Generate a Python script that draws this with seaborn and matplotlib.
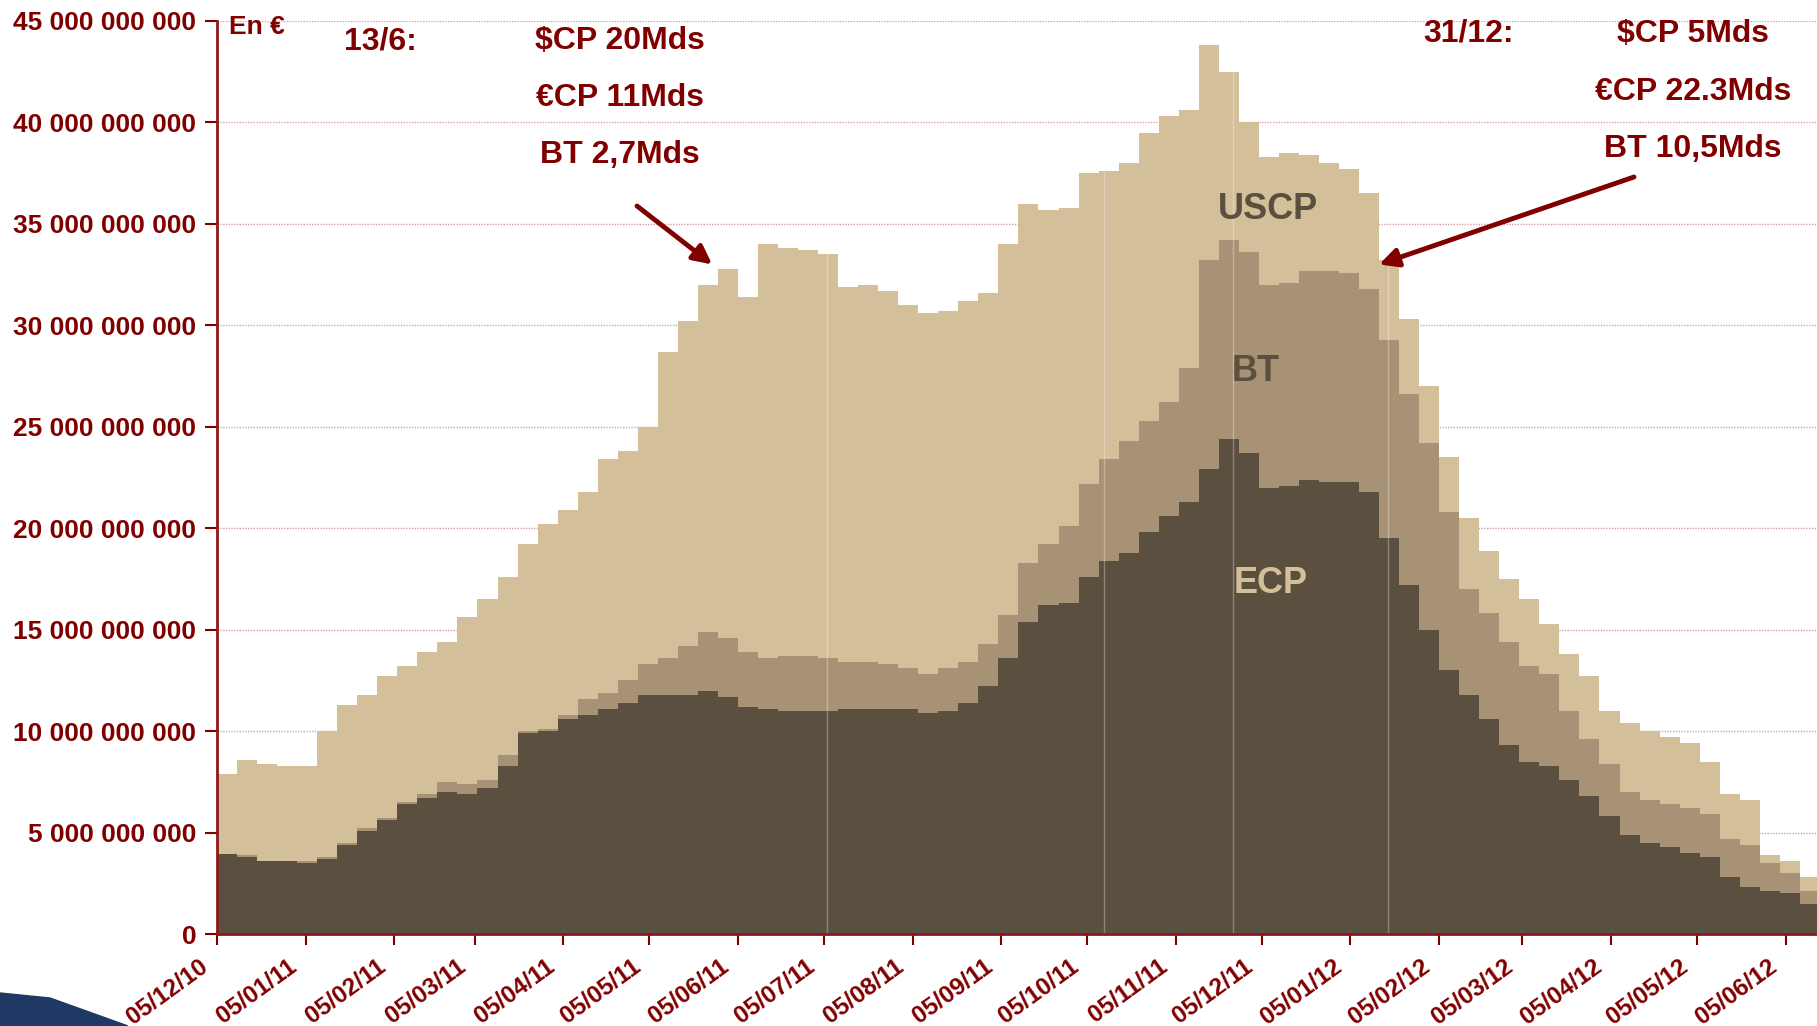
import numpy as np
import pandas as pd
import matplotlib
matplotlib.use("Agg")
import matplotlib.pyplot as plt
import matplotlib.dates as mdates
import matplotlib.ticker as mticker
import matplotlib.transforms as mtransforms
from matplotlib.patches import Polygon
import seaborn as sns

# weekly outstanding amounts, in billions of euros
week_start = list(pd.date_range("2010-12-05", periods=80, freq="7D")) + [pd.Timestamp("2012-06-16")]

ecp = [3.95, 3.8, 3.6, 3.6, 3.5, 3.7, 4.4, 5.1, 5.6, 6.4,
       6.7, 7.0, 6.9, 7.2, 8.3, 9.9, 10.0, 10.6, 10.8, 11.1,
       11.4, 11.8, 11.8, 11.8, 12.0, 11.7, 11.2, 11.1, 11.0, 11.0,
       11.0, 11.1, 11.1, 11.1, 11.1, 10.9, 11.0, 11.4, 12.2, 13.6,
       15.4, 16.2, 16.3, 17.6, 18.4, 18.8, 19.8, 20.6, 21.3, 22.9,
       24.4, 23.7, 22.0, 22.1, 22.4, 22.3, 22.3, 21.8, 19.5, 17.2,
       15.0, 13.0, 11.8, 10.6, 9.3, 8.5, 8.3, 7.6, 6.8, 5.8,
       4.9, 4.5, 4.3, 4.0, 3.8, 2.8, 2.3, 2.1, 2.0, 1.5, 1.1]

bt = [0.0, 0.1, 0.0, 0.0, 0.1, 0.1, 0.1, 0.1, 0.1, 0.1,
      0.2, 0.5, 0.5, 0.4, 0.5, 0.1, 0.1, 0.2, 0.8, 0.8,
      1.1, 1.5, 1.8, 2.4, 2.9, 2.9, 2.7, 2.5, 2.7, 2.7,
      2.6, 2.3, 2.3, 2.2, 2.0, 1.9, 2.1, 2.0, 2.1, 2.1,
      2.9, 3.0, 3.8, 4.6, 5.0, 5.5, 5.5, 5.6, 6.6, 10.3,
      9.8, 9.9, 10.0, 10.0, 10.3, 10.4, 10.3, 10.0, 9.8, 9.4,
      9.2, 7.8, 5.2, 5.2, 5.1, 4.7, 4.5, 3.4, 2.8, 2.6,
      2.1, 2.1, 2.1, 2.2, 2.1, 1.9, 2.1, 1.4, 1.0, 0.6, 0.7]

uscp = [3.95, 4.7, 4.8, 4.7, 4.7, 6.2, 6.8, 6.6, 7.0, 6.7,
        7.0, 6.9, 8.2, 8.9, 8.8, 9.2, 10.1, 10.1, 10.2, 11.5,
        11.3, 11.7, 15.1, 16.0, 17.1, 18.2, 17.5, 20.4, 20.1, 20.0,
        19.9, 18.5, 18.6, 18.4, 17.9, 17.8, 17.6, 17.8, 17.3, 18.3,
        17.7, 16.5, 15.7, 15.3, 14.2, 13.7, 14.2, 14.1, 12.7, 10.6,
        8.3, 6.4, 6.3, 6.4, 5.7, 5.3, 5.1, 4.7, 3.9, 3.7,
        2.8, 2.7, 3.5, 3.1, 3.1, 3.3, 2.5, 2.8, 3.1, 2.6,
        3.4, 3.4, 3.3, 3.2, 2.6, 2.2, 2.2, 0.4, 0.6, 0.7, 0.7]

series_names = ["ECP", "BT", "USCP"]
series_colors = ["#5b4f3f", "#a89276", "#d4bf9b"]
faint_lines = ["2011-07-06", "2011-10-11", "2011-11-25", "2012-01-18"]

RED = "#800000"
W, H = 1817, 1026

sns.set_theme(style="white")
plt.rcParams["font.family"] = ["Liberation Sans", "DejaVu Sans"]

df = pd.DataFrame({"date": week_start, "ECP": ecp, "BT": bt, "USCP": uscp})
stack = df[series_names].cumsum(axis=1) * 1e9

fig = plt.figure(figsize=(W / 100, H / 100), dpi=100)
ax = fig.add_axes([217 / W, (1026 - 934) / H, 1 - 217 / W, (934 - 21) / H])

lower = np.zeros(len(df))
for name, color in zip(series_names, series_colors):
    upper = stack[name].values
    ax.fill_between(df["date"], lower, upper, step="post", color=color, lw=0, zorder=2)
    lower = upper

for d in faint_lines:
    ax.axvline(pd.Timestamp(d), color="white", alpha=0.3, lw=1, zorder=3)

ax.set_ylim(0, 45e9)
ax.set_xlim(pd.Timestamp("2010-12-05"), pd.Timestamp("2012-06-16"))
ax.yaxis.set_major_locator(mticker.MultipleLocator(5e9))
ax.yaxis.set_major_formatter(mticker.FuncFormatter(lambda v, p: f"{int(round(v)):,}".replace(",", " ")))
ax.xaxis.set_major_locator(mdates.MonthLocator(bymonthday=5))
ax.xaxis.set_major_formatter(mdates.DateFormatter("%d/%m/%y"))

ax.grid(axis="y", color="#d9a3a3", linestyle=(0, (1, 1)), lw=1, zorder=1)
ax.set_axisbelow(True)
sns.despine(ax=ax, top=True, right=True)
for side in ["left", "bottom"]:
    ax.spines[side].set_color("#8b1a1a")
    ax.spines[side].set_linewidth(2)
    ax.spines[side].set_zorder(5)

ax.tick_params(axis="y", colors=RED, length=9, width=1.5, direction="out", labelsize=19, pad=6, left=True)
ax.tick_params(axis="x", colors=RED, length=8, width=1.5, direction="out", labelsize=17.5, pad=5, bottom=True)
for lab in ax.get_yticklabels():
    lab.set_fontweight("bold")
shift = mtransforms.ScaledTranslation(-0.18, -0.03, fig.dpi_scale_trans)
for lab in ax.get_xticklabels():
    lab.set_fontweight("bold")
    lab.set_rotation(36)
    lab.set_ha("right")
    lab.set_va("top")
    lab.set_rotation_mode("anchor")
    lab.set_transform(lab.get_transform() + shift)
ax.set_xlabel("")
ax.set_ylabel("")

# series labels inside the areas
ax.text(pd.Timestamp("2011-12-07"), 35.7e9, "USCP", color="#5b4f3f", fontsize=26, fontweight="bold", ha="center", va="center", zorder=6)
ax.text(pd.Timestamp("2011-12-03"), 27.7e9, "BT", color="#5b4f3f", fontsize=26, fontweight="bold", ha="center", va="center", zorder=6)
ax.text(pd.Timestamp("2011-12-08"), 17.3e9, "ECP", color="#d4bf9b", fontsize=26, fontweight="bold", ha="center", va="center", zorder=6)


def ftext(x, y, s, size=23, ha="center"):
    fig.text(x / W, 1 - y / H, s, color=RED, fontsize=size, fontweight="bold", ha=ha, va="center")


ftext(229, 27, "En €", size=19, ha="left")
ftext(380, 41, "13/6:")
ftext(620, 41, "$CP 20Mds")
ftext(620, 98, "€CP 11Mds")
ftext(620, 155, "BT 2,7Mds")
ftext(1469, 34, "31/12:")
ftext(1693, 34, "$CP 5Mds")
ftext(1693, 92, "€CP 22.3Mds")
ftext(1693, 149, "BT 10,5Mds")

arrow = dict(arrowstyle="-|>", color=RED, lw=3.5, mutation_scale=28, shrinkA=0, shrinkB=0)
ax.annotate("", xy=(pd.Timestamp("2011-05-27"), 33.0e9), xytext=(637, H - 206),
            textcoords="figure pixels", arrowprops=arrow, zorder=7)
ax.annotate("", xy=(pd.Timestamp("2012-01-15"), 33.0e9), xytext=(1634, H - 177),
            textcoords="figure pixels", arrowprops=arrow, zorder=7)

# slide decoration in the lower left corner
fig.patches.append(Polygon([[0, 33 / H], [50 / W, 28 / H], [128 / W, 0], [0, 0]], closed=True,
                           transform=fig.transFigure, color="#1f3864", zorder=0))

fig.savefig("out.png", dpi=100)
